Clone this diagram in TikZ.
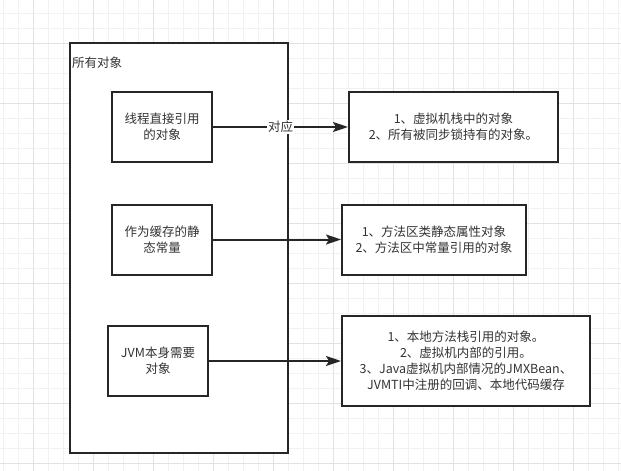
\documentclass[tikz,border=0pt]{standalone}
\usepackage{fontspec}
\setmainfont{Noto Sans CJK SC}
\usepackage{xcolor}
\usetikzlibrary{arrows.meta, positioning}
\definecolor{linegray}{HTML}{262626}
\definecolor{txtgray}{HTML}{333333}
\definecolor{gridminor}{HTML}{F1F1F1}
\definecolor{gridmajor}{HTML}{E2E2E2}

\begin{document}
\begin{tikzpicture}[
    x=1pt, y=-1pt,
    font=\fontsize{12.5}{16}\selectfont,
    text=txtgray,
    obj/.style={draw=linegray, line width=2pt, fill=white, align=center, inner sep=0pt},
    line/.style={-{Stealth[length=15pt, width=10pt, inset=3pt]}, line width=2pt, draw=linegray}
]
\useasboundingbox (0,0) rectangle (621,471);

% background grid
\foreach \i in {0,...,41} \draw[gridminor, line width=0.8pt] (3.3+15*\i,0) -- ++(0,471);
\foreach \j in {0,...,31} \draw[gridminor, line width=0.8pt] (0,13.3+15*\j) -- ++(621,0);
\foreach \i in {0,...,10} \draw[gridmajor, line width=0.8pt] (33.3+60*\i,0) -- ++(0,471);
\foreach \j in {0,...,7} \draw[gridmajor, line width=0.8pt] (0,43.3+60*\j) -- ++(621,0);

% container
\node[obj, minimum width=218pt, minimum height=410pt] (all) at (179,248) {};
\node[anchor=north west, inner sep=0pt] (alllbl) at (72,57) {所有对象};

% left boxes
\node[obj, minimum width=100pt, minimum height=70pt] (t1) at (162,127) {线程直接引用\\的对象};
\node[obj, minimum width=100pt, minimum height=70pt] (t2) at (162,239.5) {作为缓存的静\\态常量};
\node[obj, minimum width=100pt, minimum height=70pt] (t3) at (158,361) {JVM本身需要\\对象};

% right boxes
\node[obj, minimum width=209pt, minimum height=70pt, right=135pt of t1] (r1) {1、虚拟机栈中的对象\\2、所有被同步锁持有的对象。};
\node[obj, minimum width=184pt, minimum height=70pt, right=128pt of t2] (r2) {1、方法区类静态属性对象\\2、方法区中常量引用的对象};
\node[obj, minimum width=248pt, minimum height=90pt, right=132pt of t3] (r3) {1、本地方法栈引用的对象。\\2、虚拟机内部的引用。\\3、Java虚拟机内部情况的JMXBean、\\JVMTI中注册的回调、本地代码缓存};

\draw[line] (t1) -- node[fill=white, inner sep=1pt] {对应} (r1);
\draw[line] (t2) -- (r2);
\draw[line] (t3) -- (r3);
\end{tikzpicture}
\end{document}
